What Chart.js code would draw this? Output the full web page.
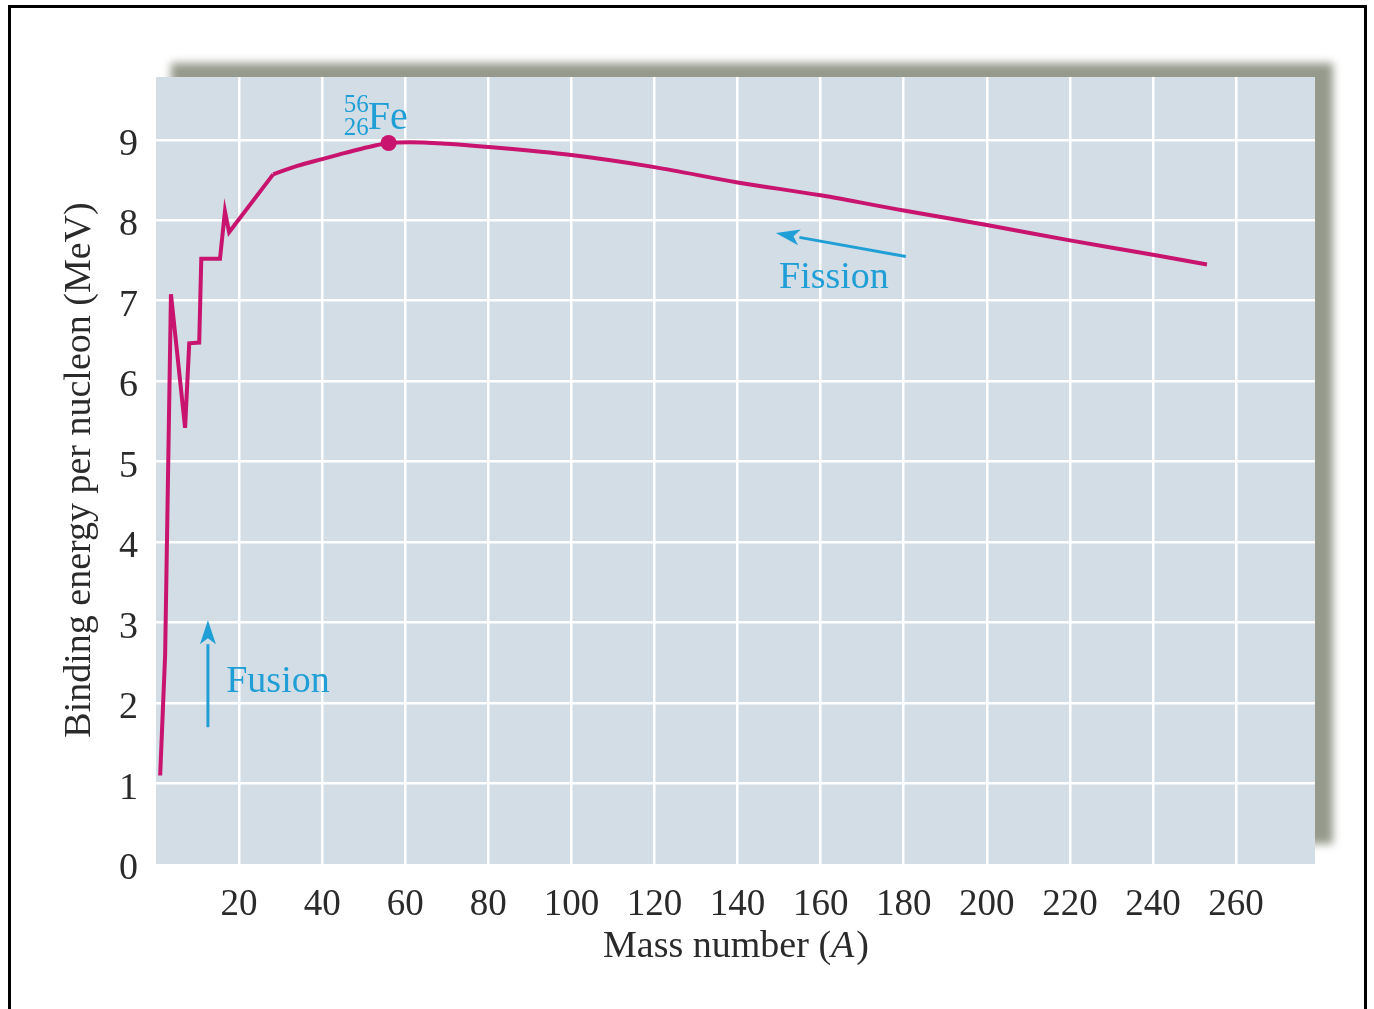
<!DOCTYPE html>
<html>
<head>
<meta charset="utf-8">
<script src="https://cdn.jsdelivr.net/npm/chart.js@4.4.1/dist/chart.umd.min.js"></script>
<style>
  body { margin: 0; background: #fff; }
  #wrap { width: 1374px; height: 1009px; }
</style>
</head>
<body>
<div id="wrap"><canvas id="chart" width="1374" height="1009"></canvas></div>
<script>
// Mass number A and binding energy per nucleon (MeV)
// light nuclei: jagged part
const lightA = [1, 2.2, 3.6, 7, 8, 10.4, 10.9, 15.4, 16.6, 17.6, 28.2];
const lightE = [1.1, 2.6, 7.08, 5.42, 6.47, 6.48, 7.52, 7.52, 8.11, 7.85, 8.57];
// heavier nuclei: smooth part
const heavyA = [28.2, 34, 40, 44, 48, 52, 56, 61, 70, 80, 100, 120, 140, 160, 180, 200, 220, 240, 253];
const heavyE = [8.57, 8.675, 8.76, 8.815, 8.87, 8.92, 8.96, 8.97, 8.95, 8.91, 8.81, 8.66, 8.47, 8.31, 8.12, 7.94, 7.75, 7.57, 7.45];
const ironA = [56];
const ironE = [8.96];
const xTicks = [20, 40, 60, 80, 100, 120, 140, 160, 180, 200, 220, 240, 260];
const yTicks = [0, 1, 2, 3, 4, 5, 6, 7, 8, 9];

const curveColor = '#c8146e';
const noteColor = '#1f9fd6';
const serif = '"Liberation Serif", "DejaVu Serif", serif';

// background: frame, drop shadow and plot panel
const backPlugin = {
    id: 'back',
    beforeDraw(chart) {
        const { ctx, chartArea: a } = chart;
        ctx.save();
        ctx.fillStyle = '#fff';
        ctx.fillRect(0, 0, chart.width, chart.height);
        ctx.strokeStyle = '#000';
        ctx.lineWidth = 3;
        ctx.strokeRect(9.5, 6.5, 1356, 1100);

        ctx.filter = 'blur(4px)';
        ctx.fillStyle = 'rgb(150,154,140)';
        ctx.fillRect(a.left + 15, a.top - 14, a.right - a.left + 3, a.bottom - a.top - 6);
        ctx.filter = 'none';
        ctx.fillStyle = '#d3dde5';
        ctx.fillRect(a.left, a.top, a.right - a.left, a.bottom - a.top);
        ctx.restore();
    }
};

function arrow(ctx, x1, y1, x2, y2) {
    const ang = Math.atan2(y2 - y1, x2 - x1);
    const len = 24, half = 8;
    const bx = x2 - len * Math.cos(ang), by = y2 - len * Math.sin(ang);
    ctx.beginPath();
    ctx.moveTo(x1, y1);
    ctx.lineTo(bx, by);
    ctx.stroke();
    ctx.beginPath();
    ctx.moveTo(x2, y2);
    ctx.lineTo(bx + half * Math.sin(ang), by - half * Math.cos(ang));
    ctx.lineTo(bx + 6 * Math.cos(ang), by + 6 * Math.sin(ang));
    ctx.lineTo(bx - half * Math.sin(ang), by + half * Math.cos(ang));
    ctx.closePath();
    ctx.fill();
}

// labels, arrows and axis titles
const notesPlugin = {
    id: 'notes',
    afterDraw(chart) {
        const { ctx } = chart;
        const xs = chart.scales.x, ys = chart.scales.y;
        const px = v => xs.getPixelForValue(v);
        const py = v => ys.getPixelForValue(v);
        ctx.save();

        // Fe label
        const fx = px(ironA[0]), fy = py(ironE[0]);
        ctx.fillStyle = noteColor;
        ctx.textBaseline = 'alphabetic';
        ctx.font = '25px ' + serif;
        ctx.textAlign = 'right';
        ctx.fillText('56', fx - 20, fy - 31);
        ctx.fillText('26', fx - 20, fy - 8);
        ctx.textAlign = 'left';
        ctx.font = '40px ' + serif;
        ctx.fillText('Fe', fx - 21, fy - 14);

        // Fission
        ctx.strokeStyle = noteColor;
        ctx.lineWidth = 3;
        arrow(ctx, px(180.5), py(7.55), px(149.2), py(7.84));
        ctx.font = '38px ' + serif;
        ctx.textAlign = 'center';
        ctx.textBaseline = 'middle';
        ctx.fillText('Fission', px(163.2), py(7.28));

        // Fusion
        arrow(ctx, px(12.5), py(1.7), px(12.5), py(3.03));
        ctx.textAlign = 'left';
        ctx.fillText('Fusion', px(16.9), py(2.26));

        // axis titles
        ctx.fillStyle = '#2a2a2a';
        const f = '38px ' + serif, fi = 'italic 38px ' + serif;
        ctx.font = f;
        const t1 = 'Mass number (', t2 = 'A', t3 = ')';
        const w1 = ctx.measureText(t1).width, w3 = ctx.measureText(t3).width;
        ctx.font = fi;
        const w2 = ctx.measureText(t2).width;
        const x = 735 - (w1 + w2 + w3) / 2;
        const y = 947;
        ctx.textAlign = 'left';
        ctx.font = f;
        ctx.fillText(t1, x, y);
        ctx.font = fi;
        ctx.fillText(t2, x + w1, y);
        ctx.font = f;
        ctx.fillText(t3, x + w1 + w2 + 2, y);

        ctx.translate(80, 470);
        ctx.rotate(-Math.PI / 2);
        ctx.textAlign = 'center';
        ctx.fillText('Binding energy per nucleon (MeV)', 0, 0);
        ctx.restore();
    }
};

const ctx = document.getElementById('chart').getContext('2d');
new Chart(ctx, {
    type: 'scatter',
    data: {
        datasets: [
            {
                label: 'Light nuclei',
                data: lightA.map((a, i) => ({ x: a, y: lightE[i] })),
                showLine: true,
                borderColor: curveColor,
                borderWidth: 4,
                pointRadius: 0,
                tension: 0,
                borderJoinStyle: 'miter'
            },
            {
                label: 'Heavier nuclei',
                data: heavyA.map((a, i) => ({ x: a, y: heavyE[i] })),
                showLine: true,
                borderColor: curveColor,
                borderWidth: 4,
                pointRadius: 0,
                cubicInterpolationMode: 'monotone'
            },
            {
                label: 'Fe-56',
                data: ironA.map((a, i) => ({ x: a, y: ironE[i] })),
                pointRadius: 8,
                pointBackgroundColor: curveColor,
                pointBorderWidth: 0
            }
        ]
    },
    options: {
        responsive: false,
        animation: false,
        layout: { padding: { left: 0, top: 77, right: 59, bottom: 0 } },
        plugins: { legend: { display: false }, tooltip: { enabled: false } },
        scales: {
            x: {
                type: 'linear',
                min: 0,
                max: 279,
                afterFit: s => { s.height = 145; },
                afterBuildTicks: s => { s.ticks = xTicks.map(v => ({ value: v })); },
                border: { display: false },
                grid: { color: '#ffffff', lineWidth: 2.5, drawTicks: false },
                ticks: {
                    padding: 19,
                    color: '#2a2a2a',
                    font: { family: serif, size: 37 },
                    maxRotation: 0,
                    autoSkip: false
                }
            },
            y: {
                type: 'linear',
                min: 0,
                max: 9.78,
                afterFit: s => { s.width = 156; },
                afterBuildTicks: s => { s.ticks = yTicks.map(v => ({ value: v })); },
                border: { display: false },
                grid: {
                    color: c => (c.tick && c.tick.value === 0) ? 'rgba(0,0,0,0)' : '#ffffff',
                    lineWidth: 2.5,
                    drawTicks: false
                },
                ticks: {
                    padding: 18,
                    labelOffset: 5,
                    color: '#2a2a2a',
                    font: { family: serif, size: 38 },
                    autoSkip: false
                }
            }
        }
    },
    plugins: [backPlugin, notesPlugin]
});
</script>
</body>
</html>
